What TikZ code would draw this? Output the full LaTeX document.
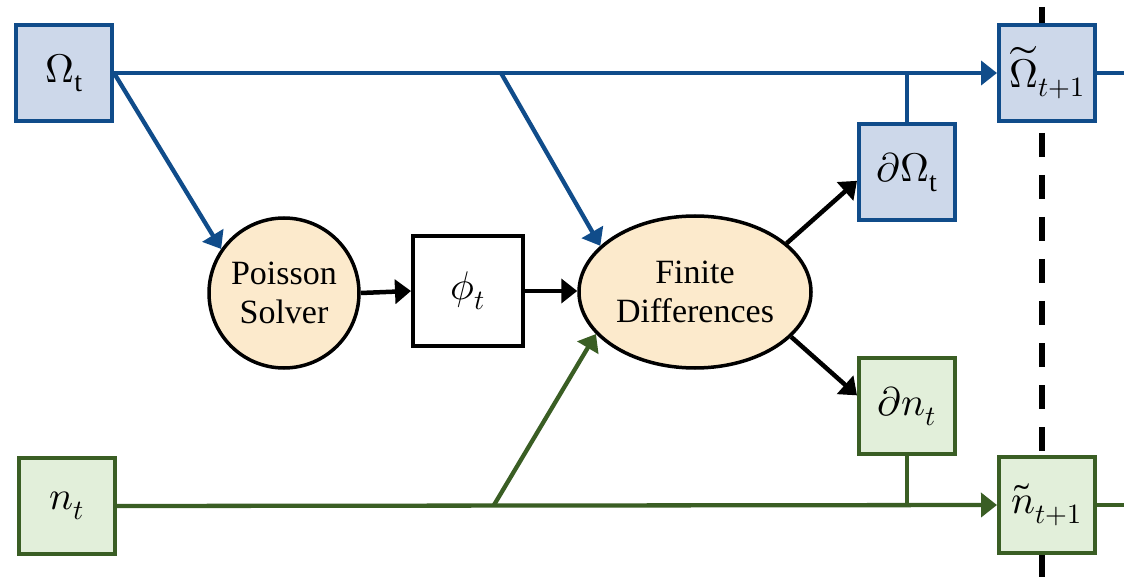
\documentclass[tikz,border=0pt]{standalone}
\usepackage{fontspec}
\usepackage{unicode-math}
\setmainfont{Liberation Serif}
\setmathfont{Latin Modern Math}
\usetikzlibrary{arrows.meta,shapes.geometric}
\definecolor{bluestroke}{RGB}{16,76,138}
\definecolor{bluefill}{RGB}{205,216,234}
\definecolor{greenstroke}{RGB}{58,94,36}
\definecolor{greenfill}{RGB}{226,239,218}
\definecolor{peach}{RGB}{252,234,204}
\begin{document}
\begin{tikzpicture}[x=1pt,y=-1pt,
  every node/.style={font=\fontsize{34}{39}\selectfont, inner sep=0pt},
  mathlabel/.style={font=\fontsize{40}{46}\selectfont},
  statebox/.style={mathlabel, line width=4pt, minimum size=96pt},
  bluebox/.style={statebox, draw=bluestroke, fill=bluefill},
  greenbox/.style={statebox, draw=greenstroke, fill=greenfill},
  plainbox/.style={mathlabel, line width=4pt, draw=black, fill=white, minimum size=110pt},
  solver/.style={line width=3.5pt, draw=black, fill=peach, align=center},
  tip/.style={-{Triangle[length=16pt,width=24pt]}},
  blueline/.style={draw=bluestroke, line width=4.3pt},
  greenline/.style={draw=greenstroke, line width=4.3pt},
  blackline/.style={draw=black, line width=4.5pt},
]
\useasboundingbox (0,0) rectangle (1127,577);

% time-step separator
\draw[line width=6pt, dash pattern=on 24pt off 18pt, dash phase=35pt]
  (1042,0) -- (1042,577);

% state boxes
\node[bluebox]  (Om)  at (64,73)    {$\Omega_{\mathrm{t}}$};
\node[bluebox]  (OmN) at (1047,73)  {$\widetilde{\Omega}_{t+1}$};
\node[bluebox]  (dOm) at (907,172)  {$\partial\Omega_{\mathrm{t}}$};
\node[greenbox] (n)   at (67,506)   {$n_t$};
\node[greenbox] (nN)  at (1047,505) {$\tilde{n}_{t+1}$};
\node[greenbox] (dn)  at (907,406)  {$\partial n_t$};

% solvers
\node[solver, circle, minimum size=150pt] (Pois) at (284,293) {Poisson\\Solver};
\node[plainbox] (phi) at (468,291) {$\phi_t$};
\node[solver, ellipse, minimum width=232pt, minimum height=152pt] (FD) at (695,292) {Finite\\Differences};

% branch points
\coordinate (bO)  at (501,73);
\coordinate (jO)  at (dOm.north |- Om.east);
\coordinate (bn)  at (494,505);
\coordinate (jn)  at (dn.south |- nN.west);
\coordinate (eO)  at (1124,73);
\coordinate (en)  at (1124,505);

% vorticity path
\draw[blueline, tip] (Om.east) -- (OmN.west);
\draw[blueline] (OmN.east) -- (eO);
\draw[blueline] (dOm.north) -- (jO);
\draw[blueline, tip] (Om.east) -- (Pois.145);
\draw[blueline, tip] (bO) -- (FD.154);

% density path
\draw[greenline, tip] (n.east) -- (nN.west);
\draw[greenline] (nN.east) -- (en);
\draw[greenline] (dn.south) -- (jn);
\draw[greenline, tip] (bn) -- (FD.203);

% solver chain
\draw[blackline, tip] (Pois.east) -- (phi.west);
\draw[blackline, tip] (phi.east) -- (phi.east -| FD.west);
\draw[blackline, tip] (FD.28) -- (dOm.190);
\draw[blackline, tip] (FD.335) -- (dn.168);
\end{tikzpicture}
\end{document}
